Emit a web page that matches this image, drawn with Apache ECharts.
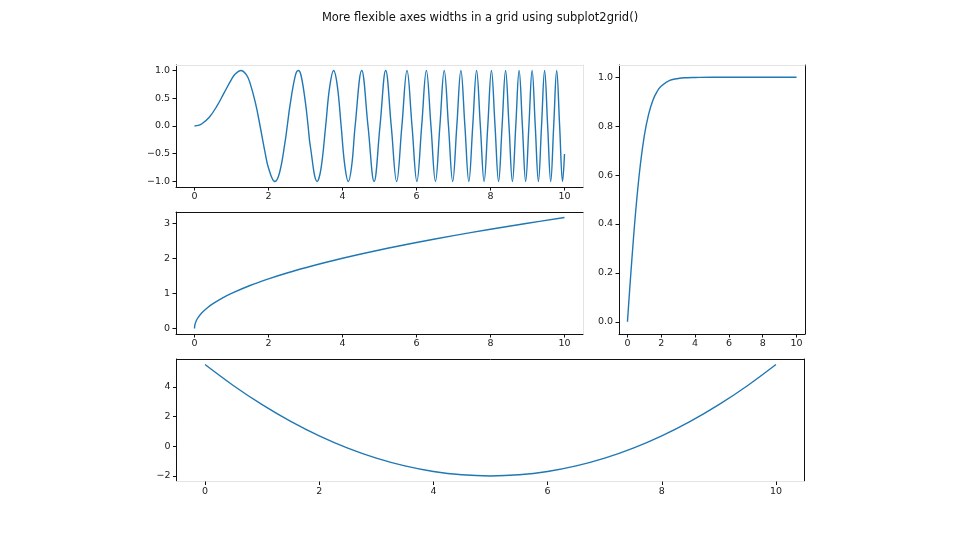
<!DOCTYPE html>
<html>
<head>
<meta charset="utf-8">
<script src="https://cdn.jsdelivr.net/npm/echarts@6/dist/echarts.min.js"></script>
<style>html,body{margin:0;padding:0;background:#fff}#c{width:960px;height:540px}</style>
</head>
<body>
<div id="c"></div>
<script>
// ---- data ----
const titleText = 'More flexible axes widths in a grid using subplot2grid()';
const xTicks = [0, 2, 4, 6, 8, 10];
const chirpTicks = [-1.0, -0.5, 0.0, 0.5, 1.0];
const sqrtTicks = [0, 1, 2, 3];
const satTicks = [0.0, 0.2, 0.4, 0.6, 0.8, 1.0];
const paraTicks = [-2, 0, 2, 4];

// top-left: oscillation, increasingly fast (x, y)
const chirpData = [
  [0, 0], [0.1, 0.01], [0.2, 0.04], [0.4, 0.159], [0.6, 0.352], [0.8, 0.597],
  [1.0, 0.841], [1.1, 0.936], [1.2533, 1], [1.4, 0.925], [1.5, 0.778], [1.65, 0.408],
  [1.7725, 0], [1.9, -0.452], [2.0, -0.757], [2.1708, -1], [2.3, -0.838],
  [2.45, -0.278], [2.5066, 0], [2.58, 0.367], [2.72, 0.896], [2.8025, 1], [2.88, 0.911],
  [3.0, 0.412], [3.07, 0], [3.13, -0.365], [3.316, -1], [3.42, -0.764], [3.5449, 0],
  [3.65, 0.686], [3.7599, 1], [3.86, 0.724], [3.9633, 0], [4.06, -0.7], [4.1568, -1],
  [4.25, -0.708], [4.3416, 0], [4.5189, 1], [4.6895, 0], [4.8541, -1], [5.0133, 0],
  [5.1675, 1], [5.3174, 0], [5.4631, -1], [5.605, 0], [5.7434, 1], [5.8786, 0],
  [6.0107, -1], [6.14, 0], [6.2666, 1], [6.3907, 0], [6.5124, -1], [6.6319, 0],
  [6.7493, 1], [6.8647, 0], [6.9782, -1], [7.0898, 0], [7.1997, 1], [7.308, 0],
  [7.4147, -1], [7.5199, 0], [7.6236, 1], [7.7259, 0], [7.8269, -1], [7.9267, 0],
  [8.0251, 1], [8.1224, 0], [8.2185, -1], [8.3135, 0], [8.4075, 1], [8.5004, 0],
  [8.5923, -1], [8.6832, 0], [8.7732, 1], [8.8623, 0], [8.9504, -1], [9.0379, 0],
  [9.1243, 1], [9.2099, 0], [9.2948, -1], [9.3793, 0], [9.4623, 1], [9.545, 0],
  [9.6269, -1], [9.7081, 0], [9.7887, 1], [9.8686, 0], [9.9479, -1], [10, -0.506]
];
// middle-left: square-root-like rise
const sqrtData = [
  [0, 0], [0.01, 0.1], [0.04, 0.2], [0.1, 0.316], [0.2, 0.447], [0.35, 0.592],
  [0.5, 0.707], [0.75, 0.866], [1, 1], [1.5, 1.225], [2, 1.414], [2.5, 1.581],
  [3, 1.732], [4, 2], [5, 2.236], [6, 2.449], [7, 2.646], [8, 2.828], [9, 3], [10, 3.162]
];
// right: saturating curve
const satData = [
  [0, 0], [0.1, 0.1], [0.25, 0.245], [0.5, 0.462], [0.75, 0.635], [1, 0.762],
  [1.25, 0.848], [1.5, 0.905], [1.75, 0.941], [2, 0.964], [2.5, 0.987], [3, 0.995],
  [3.5, 0.998], [4, 0.999], [5, 1], [6, 1], [7, 1], [8, 1], [9, 1], [10, 1]
];
// bottom: parabola
const paraData = [
  [0, 5.5], [0.5, 4.075], [1, 2.8], [1.5, 1.675], [2, 0.7], [2.5, -0.125], [3, -0.8],
  [3.5, -1.325], [4, -1.7], [4.5, -1.925], [5, -2], [5.5, -1.925], [6, -1.7],
  [6.5, -1.325], [7, -0.8], [7.5, -0.125], [8, 0.7], [8.5, 1.675], [9, 2.8],
  [9.5, 4.075], [10, 5.5]
];

// ---- chart ----
const FONT = 'DejaVu Sans';
const DARK = '#111';
const LIGHT = '#e4e4e4';
const LINE = '#1f77b4';
const minus = s => String(s).replace('-', '\u2212');

const grids = [
  {left: 176, top: 65, width: 407, height: 122},
  {left: 176, top: 212, width: 407, height: 122},
  {left: 619, top: 65, width: 186, height: 269},
  {left: 176.5, top: 359, width: 628, height: 122.5}
];
const yRanges = [[-1.1, 1.1], [-0.158, 3.32], [-0.05, 1.05], [-2.375, 5.875]];
const yTickSets = [chirpTicks, sqrtTicks, satTicks, paraTicks];
const yFmt = [v => minus(v.toFixed(1)), v => minus(Math.round(v)), v => v.toFixed(1), v => minus(Math.round(v))];
// spine shading per panel: [left, bottom, top, right]
const spines = [
  [DARK, DARK, LIGHT, LIGHT],
  [DARK, DARK, DARK, LIGHT],
  [DARK, DARK, LIGHT, DARK],
  [DARK, LIGHT, DARK, DARK]
];
const seriesData = [chirpData, sqrtData, satData, paraData];

const xAxis = [], yAxis = [], series = [];
grids.forEach((g, i) => {
  const sp = spines[i];
  xAxis.push({
    type: 'value', gridIndex: i, min: -0.5, max: 10.5, position: 'bottom',
    axisLine: {show: true, onZero: false, lineStyle: {color: sp[1], width: 1}},
    axisTick: {show: true, length: 3.5, lineStyle: {color: DARK, width: 1}, customValues: xTicks},
    axisLabel: {show: true, margin: 5, fontFamily: FONT, fontSize: 9.5, color: '#222',
      customValues: xTicks, formatter: v => minus(Math.round(v))},
    splitLine: {show: false}
  });
  xAxis.push({
    type: 'value', gridIndex: i, min: -0.5, max: 10.5, position: 'top',
    axisLine: {show: true, onZero: false, lineStyle: {color: sp[2], width: 1}},
    axisTick: {show: false}, axisLabel: {show: false}, splitLine: {show: false}
  });
  yAxis.push({
    type: 'value', gridIndex: i, min: yRanges[i][0], max: yRanges[i][1], position: 'left',
    axisLine: {show: true, onZero: false, lineStyle: {color: sp[0], width: 1}},
    axisTick: {show: true, length: 3.5, lineStyle: {color: DARK, width: 1}, customValues: yTickSets[i]},
    axisLabel: {show: true, margin: 6, fontFamily: FONT, fontSize: 9.5, color: '#222',
      customValues: yTickSets[i], formatter: yFmt[i]},
    splitLine: {show: false}
  });
  yAxis.push({
    type: 'value', gridIndex: i, min: yRanges[i][0], max: yRanges[i][1], position: 'right',
    axisLine: {show: true, onZero: false, lineStyle: {color: sp[3], width: 1}},
    axisTick: {show: false}, axisLabel: {show: false}, splitLine: {show: false}
  });
  series.push({
    type: 'line', xAxisIndex: 2 * i, yAxisIndex: 2 * i, data: seriesData[i],
    showSymbol: false, smooth: 0.4,
    lineStyle: {color: LINE, width: 1.4}, animation: false, silent: true
  });
});

const chart = echarts.init(document.getElementById('c'), null, {renderer: 'canvas'});
chart.setOption({
  backgroundColor: '#fff',
  animation: false,
  title: {text: titleText, left: 'center', top: 7,
    textStyle: {fontFamily: FONT, fontSize: 11.5, fontWeight: 'normal', color: '#111'}},
  grid: grids.map(g => Object.assign({containLabel: false}, g)),
  xAxis, yAxis, series
});
</script>
</body>
</html>
